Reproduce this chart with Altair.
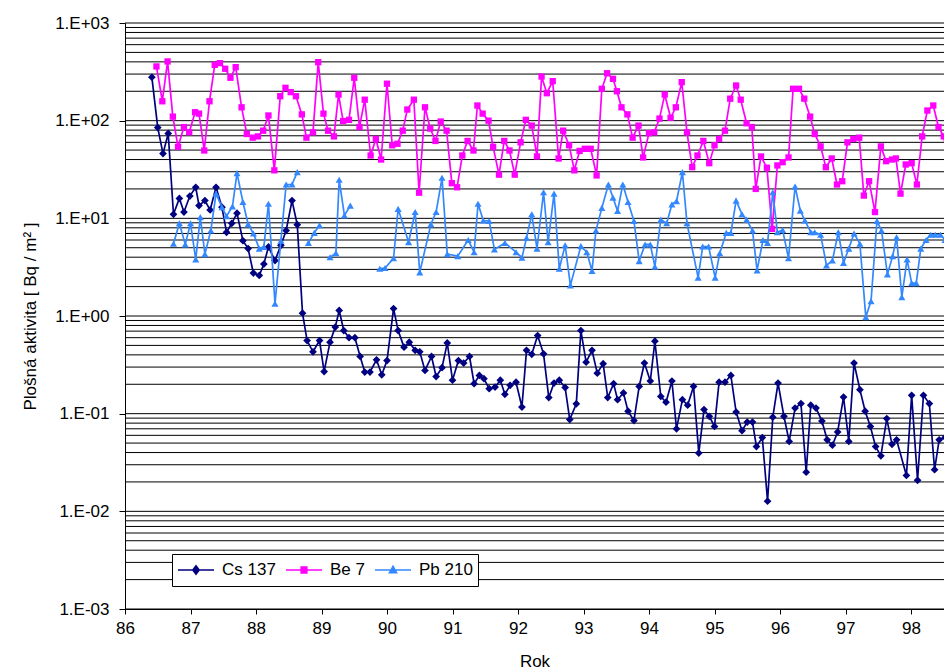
import altair as alt
import pandas as pd

FONT = "Liberation Sans"

series_names = ["Cs 137", "Be 7", "Pb 210"]
series_colors = ["#000080", "#FF00FF", "#3388FF"]

x_ticks = list(range(86, 99))
y_ticks = [0.001, 0.01, 0.1, 1, 10, 100, 1000]
y_tick_labels = ["1.E-03", "1.E-02", "1.E-01", "1.E+00", "1.E+01", "1.E+02", "1.E+03"]

cs_year = [86.41, 86.50, 86.58, 86.66, 86.74, 86.83, 86.90, 86.99, 87.08, 87.13,
           87.22, 87.30, 87.39, 87.48, 87.55, 87.63, 87.71, 87.80, 87.88, 87.96,
           88.05, 88.12, 88.19, 88.29, 88.38, 88.46, 88.55, 88.63, 88.71, 88.78,
           88.87, 88.97, 89.04, 89.13, 89.21, 89.27, 89.34, 89.42, 89.51, 89.59,
           89.66, 89.74, 89.84, 89.92, 90.00, 90.10, 90.17, 90.26, 90.34, 90.43,
           90.50, 90.58, 90.68, 90.75, 90.84, 90.92, 91.00, 91.09, 91.17, 91.26,
           91.33, 91.41, 91.48, 91.56, 91.65, 91.73, 91.80, 91.88, 91.97, 92.06,
           92.13, 92.21, 92.30, 92.39, 92.47, 92.55, 92.63, 92.72, 92.79, 92.89,
           92.96, 93.04, 93.13, 93.21, 93.30, 93.37, 93.46, 93.52, 93.61, 93.68,
           93.77, 93.85, 93.93, 94.02, 94.09, 94.18, 94.26, 94.35, 94.42, 94.51,
           94.59, 94.68, 94.76, 94.84, 94.92, 95.00, 95.07, 95.16, 95.25, 95.33,
           95.42, 95.50, 95.58, 95.64, 95.73, 95.81, 95.89, 95.97, 96.06, 96.14,
           96.23, 96.32, 96.40, 96.47, 96.55, 96.64, 96.72, 96.80, 96.88, 96.97,
           97.05, 97.13, 97.22, 97.30, 97.38, 97.46, 97.54, 97.63, 97.71, 97.78,
           97.93, 98.01, 98.10, 98.19, 98.28, 98.36, 98.43, 98.52, 98.60]
cs_val = [279, 85, 46, 74, 11, 16, 11.6, 16.9, 20.8, 13.5,
          15.2, 12.2, 20.8, 13, 7.2, 8.9, 11.3, 5.9, 4.9, 2.75,
          2.6, 3.4, 5.1, 3.7, 5.3, 7.5, 15.2, 8.6, 1.07, 0.56,
          0.43, 0.56, 0.27, 0.54, 0.77, 1.14, 0.71, 0.60, 0.60, 0.385,
          0.267, 0.267, 0.356, 0.25, 0.35, 1.19, 0.71, 0.48, 0.54, 0.445,
          0.43, 0.277, 0.385, 0.24, 0.296, 0.53, 0.22, 0.35, 0.33, 0.385,
          0.203, 0.246, 0.228, 0.18, 0.187, 0.22, 0.158, 0.195, 0.21, 0.117,
          0.445, 0.405, 0.63, 0.41, 0.146, 0.206, 0.22, 0.185, 0.087, 0.126,
          0.71, 0.337, 0.445, 0.26, 0.325, 0.146, 0.203, 0.139, 0.163, 0.106,
          0.085, 0.19, 0.33, 0.216, 0.553, 0.15, 0.131, 0.216, 0.07, 0.139,
          0.122, 0.19, 0.0395, 0.11, 0.094, 0.074, 0.21, 0.21, 0.246, 0.104,
          0.067, 0.082, 0.082, 0.046, 0.057, 0.0127, 0.092, 0.206, 0.094, 0.052,
          0.114, 0.127, 0.0252, 0.122, 0.114, 0.084, 0.054, 0.0475, 0.065, 0.148,
          0.052, 0.33, 0.176, 0.106, 0.074, 0.046, 0.037, 0.089, 0.0485, 0.054,
          0.0233, 0.154, 0.0208, 0.154, 0.127, 0.0267, 0.054, 0.057, 0.046]

be_year = [86.48, 86.57, 86.65, 86.73, 86.81, 86.90, 86.98, 87.07, 87.13, 87.21,
           87.29, 87.37, 87.45, 87.53, 87.61, 87.69, 87.78, 87.86, 87.95, 88.03,
           88.11, 88.19, 88.28, 88.37, 88.45, 88.53, 88.61, 88.70, 88.77, 88.87,
           88.95, 89.03, 89.10, 89.19, 89.26, 89.33, 89.42, 89.50, 89.58, 89.66,
           89.75, 89.83, 89.91, 90.00, 90.08, 90.16, 90.24, 90.31, 90.41, 90.49,
           90.58, 90.66, 90.74, 90.82, 90.91, 90.99, 91.07, 91.15, 91.23, 91.32,
           91.38, 91.46, 91.55, 91.62, 91.71, 91.79, 91.87, 91.95, 92.04, 92.12,
           92.21, 92.29, 92.36, 92.44, 92.53, 92.62, 92.69, 92.78, 92.86, 92.94,
           93.02, 93.11, 93.20, 93.28, 93.36, 93.45, 93.51, 93.58, 93.67, 93.75,
           93.84, 93.91, 94.00, 94.08, 94.16, 94.24, 94.33, 94.41, 94.50, 94.58,
           94.66, 94.74, 94.83, 94.92, 95.00, 95.07, 95.16, 95.24, 95.33, 95.40,
           95.49, 95.57, 95.63, 95.71, 95.80, 95.88, 95.96, 96.04, 96.13, 96.20,
           96.29, 96.37, 96.46, 96.53, 96.62, 96.70, 96.79, 96.87, 96.95, 97.03,
           97.12, 97.21, 97.28, 97.36, 97.45, 97.54, 97.62, 97.71, 97.77, 97.84,
           97.92, 98.01, 98.09, 98.17, 98.25, 98.34, 98.42, 98.50, 98.58]
be_val = [359, 158, 404, 110, 54, 86, 76, 122, 118, 49.5,
          158, 373, 388, 340, 275, 353, 137, 73, 67, 69,
          79, 113, 31, 178, 217, 196, 178, 116, 67, 76,
          397, 118, 79, 69, 185, 99, 102, 275, 86, 164,
          44, 65, 40, 239, 56, 58, 79, 130, 164, 18.3,
          137, 83, 62, 98, 79, 22.9, 20.8, 44, 62, 49.5,
          143, 118, 100, 54, 28, 62, 49.5, 28, 60, 102,
          89, 43, 283, 191, 254, 41, 79, 56, 31, 49,
          51.5, 51.5, 27.5, 212, 306, 268, 200, 137, 116, 67,
          89, 42, 74.5, 76, 105, 185, 107, 137, 248, 76,
          33.4, 44, 62, 36.7, 56, 65, 79, 168, 229, 164,
          94, 86, 20, 43, 33, 7.8, 34.8, 37.6, 42, 212,
          212, 168, 110, 73, 54.5, 33.4, 41, 22.2, 24, 60,
          65, 67, 17.1, 24, 11.6, 54.5, 38.5, 40, 41, 17.9,
          35.6, 36.7, 22.2, 69, 127, 143, 86, 69, 31]

# None marks a break (missing months) in the Pb 210 record
pb_year = [86.74, 86.83, 86.92, 87.00, 87.08, 87.15, 87.22, 87.31, 87.39, 87.48,
           87.55, 87.64, 87.71, 87.80, 87.88, 87.96, 88.05, 88.12, 88.19, 88.29,
           88.38, 88.46, 88.55, 88.63, None, 88.80, 88.89, 88.97, None, 89.13,
           89.22, 89.27, 89.35, 89.44, None, 89.89, 89.97, 90.10, 90.17, 90.33,
           90.43, 90.50, 90.67, 90.75, 90.84, 90.92, 91.08, 91.24, 91.33, 91.39,
           91.47, 91.56, 91.64, 91.80, 91.97, 92.06, 92.13, 92.21, 92.29, 92.39,
           92.46, 92.55, 92.63, 92.72, 92.80, 92.96, 93.05, 93.13, 93.19, 93.28,
           93.38, 93.45, 93.52, 93.60, 93.68, 93.77, 93.85, 93.94, 94.02, 94.09,
           94.18, 94.27, 94.35, 94.42, 94.51, 94.58, 94.75, 94.82, 94.91, 95.01,
           95.08, 95.18, 95.25, 95.33, 95.42, 95.49, 95.58, 95.65, 95.74, 95.81,
           95.89, 95.96, 96.04, 96.13, 96.23, 96.31, 96.38, 96.47, 96.53, 96.62,
           96.71, 96.80, 96.89, 96.97, 97.05, 97.13, 97.22, 97.31, 97.39, 97.48,
           97.55, 97.64, 97.72, 97.78, 97.86, 97.94, 98.01, 98.08, 98.15, 98.23,
           98.30, 98.37, 98.45, 98.52, 98.58]
pb_val = [5.5, 8.9, 5.4, 8.9, 3.8, 10.3, 4.3, 7.5, 17.9, 13,
          10.5, 13.2, 29, 14.7, 8.7, 7, 4.9, 5.1, 14.1, 1.34,
          5.9, 22.2, 22.2, 29.7, None, 5.6, 7.1, 8.5, None, 4.0,
          4.4, 24.8, 10.7, 13.5, None, 3.05, 3.1, 3.9, 12.5, 5.7,
          11.6, 2.8, 8.7, 11.6, 26, 4.3, 4.1, 6.0, 4.5, 14.1,
          9.5, 9.4, 4.8, 5.6, 4.5, 3.95, 6.3, 11, 4.9, 18.5,
          5.7, 17.9, 3.05, 5.3, 2.06, 5.2, 4.5, 2.9, 7.5, 12.8,
          22.2, 16.3, 11.9, 22.2, 14.7, 9.4, 3.65, 5.4, 5.4, 3.2,
          9.7, 8.9, 13.9, 15, 29.7, 8.9, 2.47, 5.15, 5.15, 2.47,
          4.4, 7.1, 7.1, 15.2, 11, 9.7, 7.5, 2.93, 6.0, 5.6,
          18.5, 7.2, 7.6, 3.9, 21.2, 12, 9.5, 7.2, 7.2, 6.8,
          3.3, 3.7, 7.2, 3.5, 4.9, 7.0, 5.5, 0.975, 1.42, 9.4,
          7.5, 2.67, 4.1, 6.4, 1.56, 3.8, 2.17, 2.17, 4.9, 6.0,
          6.8, 6.8, 6.8, 6.0, 1.63]

assert len(cs_year) == len(cs_val)
assert len(be_year) == len(be_val)
assert len(pb_year) == len(pb_val)


def build(name, years, vals):
    rows, seg = [], 0
    for yr, v in zip(years, vals):
        if yr is None or v is None:
            seg += 1
            continue
        rows.append({"rok": yr, "val": v, "series": name, "seg": seg})
    return pd.DataFrame(rows)


frames = [build(series_names[0], cs_year, cs_val),
          build(series_names[1], be_year, be_val),
          build(series_names[2], pb_year, pb_val)]

# horizontal grid at every 1..9 multiple of each decade
grid_vals = [m * 10.0 ** e for e in range(-3, 3) for m in range(1, 10)] + [1000.0]
grid_df = pd.DataFrame({"val": grid_vals})

label_expr = "[" + ",".join("'%s'" % s for s in y_tick_labels) + "][round(log(datum.value)/LN10)+3]"

W, H = 819, 586
X_MAX = 86 + W / 65.5   # the visible part of the time axis (page is cut at the right)

x_axis = alt.Axis(values=x_ticks, format="d", title="Rok", grid=False,
                  tickSize=5, tickColor="black", domainColor="black",
                  labelFont=FONT, labelFontSize=17, labelColor="black", labelPadding=6,
                  labelFlush=False, labelOverlap=False,
                  titleFont=FONT, titleFontSize=17, titleFontWeight="normal",
                  titleColor="black", titlePadding=17)
y_axis = alt.Axis(values=y_ticks, labelExpr=label_expr, grid=False,
                  title="Plošná aktivita [ Bq / m² ]",
                  tickSize=6, tickColor="black", domainColor="black",
                  labelFont=FONT, labelFontSize=17, labelColor="black", labelPadding=10,
                  labelFlush=False, labelOverlap=False,
                  titleFont=FONT, titleFontSize=17, titleFontWeight="normal",
                  titleColor="black", titleX=-86, titleY=H / 2, titleAngle=270,
                  titleAlign="center", titleBaseline="bottom")

xs = alt.X("rok:Q", scale=alt.Scale(domain=[86, X_MAX], nice=False, zero=False), axis=x_axis)
ys = alt.Y("val:Q", scale=alt.Scale(type="log", domain=[0.001, 1000], nice=False), axis=y_axis)

layers = [alt.Chart(grid_df).mark_rule(color="black", strokeWidth=1).encode(y=ys)]

shapes = ["diamond", "square", "triangle-up"]
sizes = [60, 40, 50]
for df, col, shp, sz in zip(frames, series_colors, shapes, sizes):
    layers.append(alt.Chart(df).mark_line(color=col, strokeWidth=1.7, clip=True)
                  .encode(x=xs, y=ys, detail="seg:N"))
    layers.append(alt.Chart(df).mark_point(shape=shp, filled=True, color=col, size=sz,
                                           opacity=1, clip=True)
                  .encode(x=xs, y=ys))

legend_paths = [
    "M-1,0H1M0,-0.24L0.18,0L0,0.24L-0.18,0Z",
    "M-1,0H1M-0.16,-0.16H0.16V0.16H-0.16Z",
    "M-1,0H1M0,-0.21L0.2,0.15H-0.2Z",
]
leg = alt.Legend(title=None, orient="none", legendX=47, legendY=531,
                 direction="horizontal", fillColor="white", strokeColor="black",
                 padding=5, labelFont=FONT, labelFontSize=17, labelColor="black",
                 symbolSize=1296, symbolStrokeWidth=1.5, labelOffset=7,
                 columnPadding=9, clipHeight=22)
leg_df = pd.DataFrame({"leg": series_names, "rok": [90.0] * 3, "val": [1.0] * 3})
legend_layer = (alt.Chart(leg_df).transform_filter("false")
                .mark_point(filled=True, opacity=1)
                .encode(x=xs, y=ys,
                        fill=alt.Fill("leg:N", scale=alt.Scale(domain=series_names, range=series_colors), legend=leg),
                        stroke=alt.Stroke("leg:N", scale=alt.Scale(domain=series_names, range=series_colors), legend=leg),
                        shape=alt.Shape("leg:N", scale=alt.Scale(domain=series_names, range=legend_paths), legend=leg)))
layers.append(legend_layer)

chart = (alt.layer(*layers)
         .properties(width=W, height=H,
                     autosize=alt.AutoSizeParams(type="none"),
                     padding={"left": 117, "top": 15, "right": 0, "bottom": 63},
                     background="white")
         .configure_view(stroke=None))

chart.save("out.html", embed_options={"renderer": "svg", "actions": False})
